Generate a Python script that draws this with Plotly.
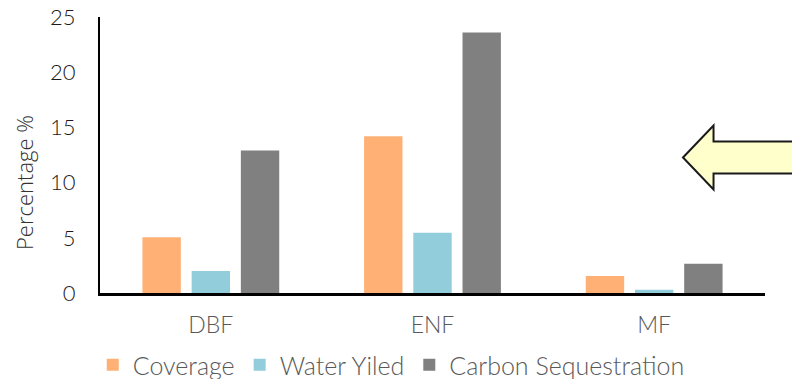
import plotly.graph_objects as go

# Forest types and the three indicators (percent)
categories = ["DBF", "ENF", "MF"]
coverage = [5.05, 14.2, 1.55]
water_yield = [2.0, 5.45, 0.3]
carbon_seq = [12.9, 23.6, 2.65]

series_names = ["Coverage", "Water Yiled", "Carbon Sequestration"]
series_colors = ["#FFB074", "#92CDDC", "#808080"]
series_values = [coverage, water_yield, carbon_seq]

FONT = "Lato"

fig = go.Figure()
for name, vals, col in zip(series_names, series_values, series_colors):
    fig.add_trace(go.Bar(
        x=categories, y=vals, name=name,
        marker=dict(color=col, line=dict(width=0)),
    ))

# Pixel helpers for the plot area
W, H = 792, 379
L, R, T, B = 100, 27, 17, 86
pw, ph = W - L - R, H - T - B

def px(x):
    return (x - L) / pw

def py(y):
    return (H - B - y) / ph

# Block arrow pointing left, running off the right edge
pts = [(683, 157.5), (713.5, 125.5), (713.5, 141.5), (800, 141.5),
       (800, 173.5), (713.5, 173.5), (713.5, 189.5)]
path = "M " + " L ".join(f"{px(x):.4f},{py(y):.4f}" for x, y in pts) + " Z"
fig.add_shape(type="path", path=path, xref="paper", yref="paper",
              fillcolor="#FFFFCC", line=dict(color="#1a1a1a", width=2))

# Y-axis title
fig.add_annotation(text="Percentage %", xref="paper", yref="paper",
                   x=px(24), y=py(183), textangle=-90, showarrow=False,
                   xanchor="center", yanchor="middle",
                   font=dict(family="Open Sans", size=22, color="#333333", weight=300))

fig.update_layout(
    width=W, height=H,
    margin=dict(l=L, r=R, t=T, b=B, autoexpand=False),
    paper_bgcolor="white", plot_bgcolor="white",
    barmode="group", bargap=0.334, bargroupgap=0.22,
    font=dict(family=FONT, size=22, color="#595959", weight=300),
    showlegend=True,
    legend=dict(orientation="h", xref="container", yref="container",
                x=0.494, xanchor="center", y=(H - 365) / H, yanchor="middle",
                font=dict(family=FONT, size=25, color="#595959", weight=300),
                itemwidth=30, traceorder="normal"),
    xaxis=dict(showline=True, linecolor="black", linewidth=2.5, showgrid=False,
               ticks="", tickfont=dict(family=FONT, size=23, color="#595959", weight=300),
               ticklabelstandoff=10),
    yaxis=dict(range=[0, 25], dtick=5, showline=True, linecolor="black", linewidth=2,
               showgrid=False, zeroline=False, ticks="",
               tickfont=dict(family=FONT, size=22, color="#1a1a1a", weight=300),
               ticklabelstandoff=18),
)

fig.write_html("out.html")
